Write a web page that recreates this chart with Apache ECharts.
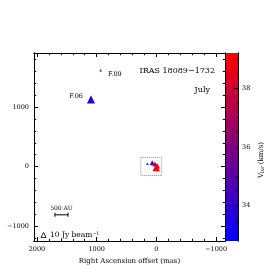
<!DOCTYPE html>
<html><head><meta charset="utf-8">
<script src="https://cdn.jsdelivr.net/npm/echarts@6/dist/echarts.min.js"></script>
<style>html,body{margin:0;padding:0;background:#fff}#c{width:274px;height:274px}</style>
</head><body><div id="c"></div>
<script>
// ---- data ----
const NAMES = ['F.09', 'F.06', '', '', '', '', ''];
const RA    = [933, 1095, 150, 70, 25, -15, 2];      // mas
const DEC   = [1618, 1130, 50, 65, 45, 15, -15];     // mas
const VLSR  = [33.9, 33.6, 34.0, 34.6, 37.2, 38.6, 39.1]; // km/s
const FLUX  = [2.5, 26, 2.5, 10, 10, 12, 22];        // Jy/beam

const X_MIN = -1150, X_MAX = 2050;
const Y_MIN = -1250, Y_MAX = 1910;
const X_MAJOR = [2000, 1000, 0, -1000];
const X_MINOR = [-1000, -800, -600, -400, -200, 0, 200, 400, 600, 800, 1000, 1200, 1400, 1600, 1800, 2000];
const Y_MAJOR = [1000, 0, -1000];
const Y_MINOR = [-1200, -1000, -800, -600, -400, -200, 0, 200, 400, 600, 800, 1000, 1200, 1400, 1600, 1800];

const CB_MIN = 32.8, CB_MAX = 39.2;
const CB_MAJOR = [34, 36, 38];
const CB_MINOR = [33, 33.5, 34, 34.5, 35, 35.5, 36, 36.5, 37, 37.5, 38, 38.5, 39];
const CB_COLORS = ['#0000ff', '#ff0000'];

const ZOOM_BOX_RA = [260, -90];
const ZOOM_BOX_DEC = [155, -150];
const SCALEBAR_RA = [1700, 1480];
const SCALEBAR_DEC = -810;
const SCALEBAR_TEXT = '500 AU';
const LEGEND_FLUX = 10;
const TITLE = 'IRAS 18089−1732';
const EPOCH = 'July';

// ---- styling ----
const FF = '"DejaVu Serif", serif';
const sizeOf = f => 5 * Math.sqrt(f / 10);
const fmt = v => String(v).replace('-', '−');

function mkAxes(grid, pos, min, max, inverse, major, minor, labels, extra) {
  const base = {
    type: 'value', gridIndex: grid, position: pos, min, max, inverse, z: 10,
    axisLine: { show: true, onZero: false, lineStyle: { color: '#000', width: 1 } },
    splitLine: { show: false }
  };
  const a = Object.assign({}, base, {
    axisTick: { show: true, inside: true, length: 4, customValues: major, lineStyle: { color: '#000', width: 1 } },
    axisLabel: labels ? { show: true, customValues: major, formatter: fmt, fontFamily: FF, fontSize: 6.5, color: '#000', margin: 5 } : { show: false }
  }, extra || {});
  const b = Object.assign({}, base, {
    axisTick: { show: true, inside: true, length: 2.2, customValues: minor, lineStyle: { color: '#000', width: 1 } },
    axisLabel: { show: false }
  });
  return [a, b];
}

const xAxes = [
  ...mkAxes(0, 'bottom', X_MIN, X_MAX, true, X_MAJOR, X_MINOR, true, {
    name: 'Right Ascension offset (mas)', nameLocation: 'middle', nameGap: 15,
    nameTextStyle: { fontFamily: FF, fontSize: 7, color: '#000' }
  }),
  ...mkAxes(0, 'top', X_MIN, X_MAX, true, X_MAJOR, X_MINOR, false),
  { type: 'value', gridIndex: 1, min: 0, max: 1, show: false }
];
const yAxes = [
  ...mkAxes(0, 'left', Y_MIN, Y_MAX, false, Y_MAJOR, Y_MINOR, true, {
    name: 'Declination offset (mas)', nameLocation: 'middle', nameGap: 24, nameRotate: 90,
    nameTextStyle: { fontFamily: FF, fontSize: 7, color: '#000' }
  }),
  ...mkAxes(0, 'right', Y_MIN, Y_MAX, false, Y_MAJOR, Y_MINOR, false),
  ...mkAxes(1, 'right', CB_MIN, CB_MAX, false, CB_MAJOR, CB_MINOR, true)
];
yAxes[4].axisLabel.margin = 4;

const pts = RA.map((ra, i) => {
  const item = { name: NAMES[i], value: [ra, DEC[i], VLSR[i], FLUX[i]] };
  if (NAMES[i]) {
    const left = NAMES[i] === 'F.06';
    item.label = {
      show: true, formatter: '{b}', position: left ? 'left' : 'right',
      distance: left ? 4 : 6, offset: left ? [0, -3] : [0, 4],
      fontFamily: FF, fontSize: 6.5, color: '#000'
    };
  }
  return item;
});

const chart = echarts.init(document.getElementById('c'), null, { renderer: 'canvas' });
const cs = sizeOf(LEGEND_FLUX), cx = 43.5, cy = 235;
chart.setOption({
  animation: false,
  backgroundColor: '#fff',
  textStyle: { fontFamily: FF },
  grid: [
    { left: 34, top: 53, width: 191, height: 188, containLabel: false, outerBoundsMode: 'none' },
    { left: 225, top: 53, width: 13, height: 188, containLabel: false, outerBoundsMode: 'none' }
  ],
  xAxis: xAxes,
  yAxis: yAxes,
  visualMap: {
    type: 'continuous', show: false, min: CB_MIN, max: CB_MAX, dimension: 2,
    seriesIndex: 0, inRange: { color: CB_COLORS }
  },
  series: [
    {
      type: 'scatter', xAxisIndex: 0, yAxisIndex: 0, symbol: 'triangle',
      symbolSize: d => sizeOf(d[3]), itemStyle: { opacity: 1 },
      data: pts, z: 5
    },
    {
      type: 'line', xAxisIndex: 0, yAxisIndex: 0, silent: true,
      data: SCALEBAR_RA.map(r => [r, SCALEBAR_DEC]),
      symbol: 'rect', symbolSize: [1, 4], showSymbol: true,
      lineStyle: { color: '#000', width: 1 }, itemStyle: { color: '#000' },
      markArea: {
        silent: true,
        itemStyle: { color: 'rgba(0,0,0,0)', borderColor: '#888', borderWidth: 1, borderType: 'dotted' },
        data: [[{ coord: [ZOOM_BOX_RA[0], ZOOM_BOX_DEC[0]] }, { coord: [ZOOM_BOX_RA[1], ZOOM_BOX_DEC[1]] }]]
      }
    },
    {
      type: 'custom', xAxisIndex: 4, yAxisIndex: 4, silent: true, z: 1,
      data: [[0, CB_MIN, CB_MAX]],
      renderItem: (params, api) => {
        const p0 = api.coord([0, api.value(2)]);
        const p1 = api.coord([1, api.value(1)]);
        return {
          type: 'rect',
          shape: { x: p0[0], y: p0[1], width: p1[0] - p0[0], height: p1[1] - p0[1] },
          style: { fill: new echarts.graphic.LinearGradient(0, 0, 0, 1, [
            { offset: 0, color: CB_COLORS[1] }, { offset: 1, color: CB_COLORS[0] }]) }
        };
      }
    }
  ],
  graphic: [
    { type: 'text', x: 215, y: 70.5, style: { text: TITLE, align: 'right', verticalAlign: 'middle', fontFamily: FF, fontSize: 8, fill: '#000' } },
    { type: 'text', x: 210, y: 89.5, style: { text: EPOCH, align: 'right', verticalAlign: 'middle', fontFamily: FF, fontSize: 8, fill: '#000' } },
    { type: 'text', x: 61.5, y: 208, style: { text: SCALEBAR_TEXT, align: 'center', verticalAlign: 'middle', fontFamily: FF, fontSize: 6, fill: '#000' } },
    { type: 'polygon', shape: { points: [[cx, cy - cs / 2], [cx - cs / 2, cy + cs / 2], [cx + cs / 2, cy + cs / 2]] },
      style: { fill: 'none', stroke: '#000', lineWidth: 0.8 } },
    { type: 'text', x: 50, y: 235.5, style: { text: '10 Jy beam⁻¹', align: 'left', verticalAlign: 'middle', fontFamily: FF, fontSize: 7.5, fill: '#000' } },
    { type: 'text', x: 261, y: 160, rotation: Math.PI / 2,
      style: { text: '{v|V}{s|lsr}{v| (km/s)}', align: 'center', verticalAlign: 'middle',
        rich: { v: { fontFamily: FF, fontSize: 7, fill: '#000' }, s: { fontFamily: FF, fontSize: 5, fill: '#000', padding: [4, 0, 0, 0] } } } }
  ]
});
</script></body></html>
